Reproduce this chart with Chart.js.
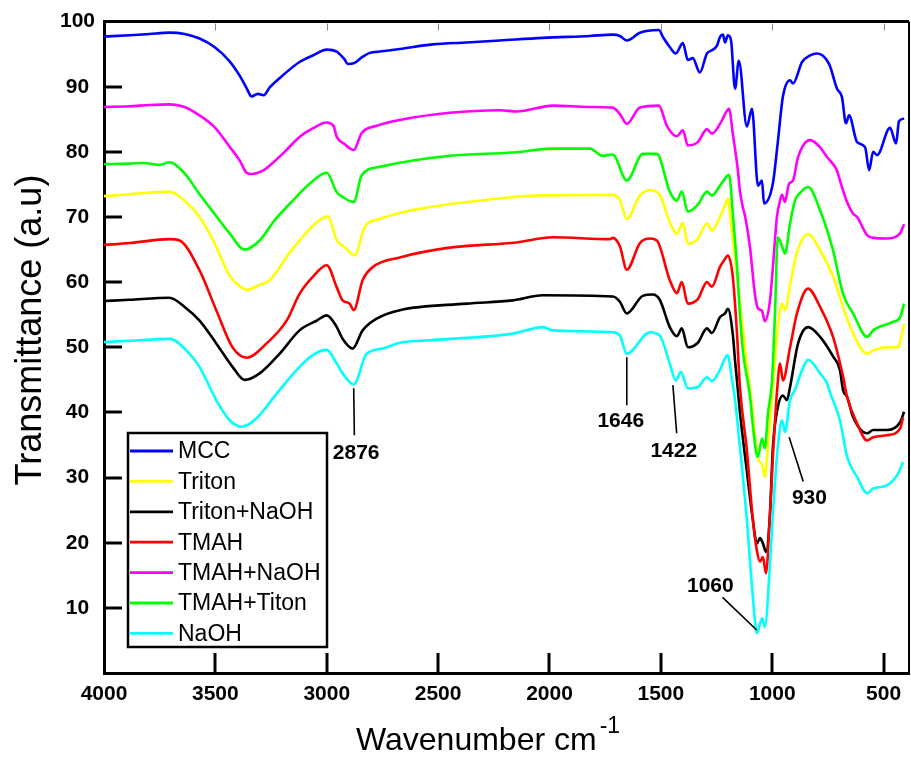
<!DOCTYPE html>
<html>
<head>
<meta charset="utf-8">
<script src="https://cdn.jsdelivr.net/npm/chart.js@4.4.1/dist/chart.umd.min.js"></script>
<style>
html,body{margin:0;padding:0;background:#fff;}
canvas{display:block;}
</style>
</head>
<body>
<canvas id="c" width="911" height="758"></canvas>
<script>
// ---- data ----
const seriesNames = ['MCC','Triton','Triton+NaOH','TMAH','TMAH+NaOH','TMAH+Titon','NaOH'];
const seriesColors = ['#0000ff','#ffff00','#000000','#ff0000','#ff00ff','#00ff00','#00ffff'];
const wnTicks = [4000,3500,3000,2500,2000,1500,1000,500];
const tTicks = [10,20,30,40,50,60,70,80,90,100];

// [wavenumber cm-1, transmittance]
const mcc = [[4000,97.7],[3885,97.9],[3796,98.1],[3706,98.3],[3638,98.1],[3571,97.4],[3504,96.1],[3436,93.9],[3391,91.7],[3360,89.8],[3337,88.5],[3310,88.9],[3283,88.7],[3256,89.9],[3212,91.3],[3189,92.0],[3122,93.8],[3063,94.8],[3000,95.7],[2955,95.4],[2942,95.0],[2920,94.2],[2906,93.5],[2879,93.6],[2843,94.5],[2807,95.2],[2762,95.4],[2672,95.8],[2524,96.5],[2372,96.8],[2223,97.1],[2030,97.5],[1819,97.8],[1716,98.0],[1684,97.8],[1653,97.1],[1594,98.3],[1509,98.7],[1490,97.6],[1460,96.1],[1433,95.1],[1401,96.7],[1379,94.1],[1357,94.4],[1325,92.2],[1293,95.1],[1271,95.6],[1248,96.3],[1235,97.6],[1221,98.0],[1212,96.8],[1199,97.9],[1185,97.1],[1167,89.7],[1150,94.0],[1114,83.9],[1091,86.6],[1064,74.8],[1046,75.6],[1037,72.1],[997,75.2],[975,81.5],[952,88.5],[920,91.0],[907,90.5],[866,93.8],[830,94.8],[799,95.1],[745,93.5],[709,89.7],[687,88.4],[669,84.4],[655,85.6],[619,81.5],[583,80.7],[565,77.2],[547,80.0],[529,79.5],[471,83.7],[444,81.3],[431,84.7],[408,85.1]];
const triton = [[4000,73.2],[3885,73.5],[3706,73.9],[3638,72.5],[3571,70.0],[3504,66.0],[3436,61.0],[3391,59.4],[3360,58.8],[3301,59.6],[3256,60.3],[3167,64.5],[3122,66.4],[3054,68.9],[2995,70.1],[2955,66.4],[2920,65.4],[2875,64.1],[2830,68.4],[2762,69.7],[2448,72.0],[2372,72.3],[2057,73.3],[1716,73.4],[1684,72.6],[1653,69.7],[1594,73.3],[1549,74.1],[1505,73.4],[1460,69.2],[1428,67.4],[1401,69.1],[1379,65.9],[1334,66.7],[1293,69.0],[1271,67.9],[1235,70.0],[1212,71.8],[1199,72.8],[1185,69.0],[1158,61.0],[1123,50.0],[1091,41.0],[1064,33.0],[1046,32.0],[1033,30.1],[1019,35.0],[1001,42.0],[988,48.0],[975,53.0],[956,56.7],[943,55.7],[920,59.5],[898,63.3],[875,65.9],[839,67.4],[785,64.9],[727,60.9],[682,56.2],[637,52.1],[574,49.0],[547,49.5],[485,50.0],[435,50.0],[426,50.8],[408,53.6]];
const tritonNaOH = [[4000,57.1],[3885,57.3],[3706,57.6],[3638,56.2],[3571,54.1],[3496,50.6],[3423,47.0],[3369,45.0],[3301,46.0],[3212,49.0],[3122,52.6],[3045,54.1],[3000,54.9],[2955,53.1],[2929,51.3],[2884,49.8],[2839,52.6],[2776,54.4],[2672,55.7],[2372,56.7],[2165,57.2],[2030,58.0],[1716,57.8],[1684,57.0],[1653,55.2],[1581,57.9],[1536,58.1],[1505,57.3],[1460,53.1],[1428,51.7],[1406,52.9],[1379,50.0],[1334,50.7],[1293,52.9],[1271,52.2],[1235,54.6],[1212,55.2],[1199,55.9],[1177,52.0],[1167,48.0],[1145,40.0],[1114,31.0],[1087,23.5],[1069,19.9],[1055,20.7],[1042,19.9],[1028,18.6],[1010,24.5],[997,34.7],[975,40.8],[952,42.6],[934,41.9],[920,43.9],[884,50.6],[839,53.1],[785,51.6],[727,48.6],[696,46.5],[682,43.4],[664,42.4],[637,39.3],[574,36.8],[547,37.3],[485,37.3],[426,38.5],[408,40.1]];
const tmah = [[4000,65.7],[3885,66.0],[3706,66.6],[3661,66.4],[3571,61.8],[3496,55.7],[3423,50.0],[3360,48.4],[3270,50.6],[3180,54.1],[3122,58.2],[3063,60.8],[3000,62.6],[2955,59.2],[2929,57.2],[2897,56.7],[2879,55.7],[2839,60.3],[2794,62.3],[2672,63.8],[2448,65.3],[2147,66.1],[1985,66.9],[1729,66.6],[1716,66.8],[1684,65.5],[1653,61.9],[1594,66.0],[1549,66.7],[1518,66.4],[1460,60.3],[1428,58.3],[1406,60.0],[1379,56.7],[1334,57.4],[1293,60.0],[1271,59.3],[1235,62.3],[1217,63.3],[1199,64.1],[1177,60.8],[1158,52.0],[1145,43.9],[1114,34.2],[1087,23.5],[1069,18.8],[1055,17.1],[1042,17.8],[1028,15.3],[1010,24.5],[997,33.2],[979,43.0],[965,47.5],[952,44.9],[920,50.0],[889,55.2],[839,59.0],[785,56.2],[727,51.6],[682,45.5],[664,42.4],[619,38.3],[574,35.7],[547,36.2],[485,36.5],[426,37.5],[413,39.2]];
const tmahNaOH = [[4000,86.9],[3885,87.0],[3796,87.2],[3706,87.3],[3638,86.9],[3571,85.6],[3504,83.8],[3436,80.8],[3391,78.7],[3360,76.8],[3337,76.6],[3283,77.2],[3256,77.9],[3189,80.0],[3122,82.3],[3063,83.6],[3000,84.5],[2970,84.0],[2955,82.3],[2920,81.2],[2879,80.3],[2843,82.9],[2776,84.0],[2672,84.9],[2448,86.0],[2223,86.4],[2147,86.2],[1985,87.1],[1819,86.9],[1716,86.8],[1684,85.8],[1653,84.3],[1594,86.8],[1509,87.1],[1473,84.0],[1428,82.4],[1401,83.3],[1379,81.0],[1334,81.5],[1293,83.5],[1271,82.8],[1226,84.8],[1212,85.8],[1194,86.6],[1177,82.8],[1154,77.1],[1145,74.0],[1132,71.5],[1123,70.3],[1100,65.4],[1078,58.2],[1064,56.0],[1046,55.6],[1033,54.0],[1010,57.2],[997,62.3],[979,70.0],[965,72.5],[956,73.4],[943,72.3],[925,75.1],[907,75.6],[884,79.2],[830,81.8],[785,80.7],[754,79.2],[709,77.1],[696,75.6],[664,72.3],[637,70.5],[619,70.0],[574,67.2],[547,66.8],[485,66.7],[426,67.5],[408,68.9]];
const tmahTriton = [[4000,78.1],[3885,78.2],[3820,78.3],[3751,78.0],[3706,78.4],[3638,76.7],[3571,73.5],[3504,70.5],[3436,67.5],[3369,65.0],[3301,66.4],[3234,69.5],[3167,72.0],[3077,75.1],[3000,76.8],[2955,73.8],[2929,73.1],[2879,72.3],[2843,76.4],[2762,77.7],[2448,79.4],[2165,79.9],[1985,80.5],[1819,80.5],[1761,79.4],[1716,79.6],[1653,75.6],[1581,79.7],[1518,79.7],[1460,73.9],[1428,72.5],[1406,73.9],[1379,70.8],[1334,71.9],[1293,73.9],[1271,73.3],[1235,74.8],[1212,75.9],[1194,76.5],[1177,70.5],[1158,62.3],[1145,55.0],[1132,49.5],[1109,44.5],[1100,42.5],[1087,38.0],[1073,34.0],[1064,33.2],[1046,36.0],[1033,34.5],[1019,39.9],[1001,44.9],[988,55.0],[975,66.9],[956,65.5],[943,64.4],[920,69.0],[898,72.5],[875,73.7],[839,74.6],[785,71.0],[727,64.9],[682,58.2],[637,55.2],[574,51.6],[547,52.6],[458,53.9],[426,54.6],[408,56.7]];
const naoh = [[4000,50.8],[3885,51.0],[3706,51.3],[3616,49.0],[3571,47.0],[3496,41.9],[3436,38.8],[3382,37.8],[3315,39.1],[3225,42.9],[3122,47.0],[3063,48.8],[3000,49.6],[2955,47.5],[2929,46.0],[2879,44.3],[2821,49.0],[2749,49.8],[2672,50.7],[2524,51.1],[2165,52.1],[2030,53.1],[1985,52.6],[1716,52.3],[1684,51.8],[1653,49.0],[1549,52.3],[1505,51.8],[1460,47.5],[1433,44.9],[1410,46.2],[1379,43.7],[1334,43.9],[1293,45.4],[1271,44.8],[1235,46.5],[1212,48.3],[1199,48.8],[1185,46.0],[1167,41.9],[1145,34.7],[1114,23.5],[1087,11.7],[1069,6.1],[1046,8.4],[1033,7.1],[1010,16.8],[997,24.5],[975,34.7],[956,38.8],[943,37.0],[920,41.9],[898,43.5],[866,46.5],[839,48.1],[785,46.0],[754,44.5],[740,43.0],[696,38.8],[664,33.2],[619,30.1],[574,27.6],[547,28.3],[485,28.8],[435,30.6],[413,32.4]];

const seriesData = [mcc, triton, tritonNaOH, tmah, tmahNaOH, tmahTriton, naoh];

// peak labels: text, leader line ends and label centre, in (wavenumber, transmittance)
const peakLabels = [
  {text:'2876', from:[2879,43.7], to:[2876,36.5], at:[2868,33.8]},
  {text:'1646', from:[1653,48.5], to:[1653,41.1], at:[1680,38.6]},
  {text:'1422', from:[1446,44.2], to:[1429,36.8], at:[1442,34.1]},
  {text:'930',  from:[924,36.2],  to:[861,29.4],  at:[833,26.8]},
  {text:'1060', from:[1070,6.6],  to:[1223,11.6], at:[1278,13.4]}
];

const FONT = '"Liberation Sans", Arial, Helvetica, sans-serif';

const framePlugin = {
  id: 'frame',
  afterDraw(chart) {
    const ctx = chart.ctx, xs = chart.scales.x, ys = chart.scales.y, ca = chart.chartArea;
    ctx.save();
    ctx.strokeStyle = '#000';
    ctx.lineCap = 'butt';
    // top and right border
    ctx.lineWidth = 3;
    ctx.beginPath(); ctx.moveTo(ca.left, ca.top); ctx.lineTo(ca.right, ca.top); ctx.stroke();
    ctx.lineWidth = 2;
    ctx.beginPath(); ctx.moveTo(ca.right, ca.top); ctx.lineTo(ca.right, ca.bottom); ctx.stroke();
    // inward major ticks
    ctx.lineWidth = 3;
    wnTicks.forEach(v => {
      if (v === xs.max) return;
      const p = Math.round(xs.getPixelForValue(v));
      ctx.beginPath(); ctx.moveTo(p, ca.bottom); ctx.lineTo(p, ca.bottom - 20); ctx.stroke();
    });
    tTicks.forEach(v => {
      if (v === ys.max) return;
      const p = Math.round(ys.getPixelForValue(v));
      ctx.beginPath(); ctx.moveTo(ca.left, p); ctx.lineTo(ca.left + 18, p); ctx.stroke();
    });
    // small top ticks
    ctx.lineWidth = 1; ctx.strokeStyle = '#888';
    wnTicks.forEach(v => {
      if (v === xs.max) return;
      const p = Math.round(xs.getPixelForValue(v)) + 0.5;
      ctx.beginPath(); ctx.moveTo(p, ca.top + 2); ctx.lineTo(p, ca.top + 9); ctx.stroke();
    });
    // peak labels
    ctx.strokeStyle = '#000'; ctx.fillStyle = '#000'; ctx.lineWidth = 1.6;
    ctx.font = 'bold 21px ' + FONT; ctx.textAlign = 'center'; ctx.textBaseline = 'middle';
    peakLabels.forEach(a => {
      ctx.beginPath();
      ctx.moveTo(xs.getPixelForValue(a.from[0]), ys.getPixelForValue(a.from[1]));
      ctx.lineTo(xs.getPixelForValue(a.to[0]), ys.getPixelForValue(a.to[1]));
      ctx.stroke();
      ctx.fillText(a.text, xs.getPixelForValue(a.at[0]), ys.getPixelForValue(a.at[1]));
    });
    // legend box
    const lx = 128, ly = 433, lw = 199, lh = 214;
    ctx.lineWidth = 2.5; ctx.strokeStyle = '#000';
    ctx.strokeRect(lx, ly, lw, lh);
    ctx.font = '23px ' + FONT; ctx.textAlign = 'left'; ctx.textBaseline = 'middle';
    chart.data.datasets.forEach((ds, i) => {
      const y = ly + 18 + i * 30.4;
      ctx.strokeStyle = ds.borderColor; ctx.lineWidth = 2.8;
      ctx.beginPath(); ctx.moveTo(lx + 2, y); ctx.lineTo(lx + 45, y); ctx.stroke();
      ctx.fillStyle = '#000';
      ctx.fillText(ds.label, lx + 50, y + 1);
    });
    // axis titles
    ctx.fillStyle = '#000';
    ctx.save();
    ctx.translate(41, 330); ctx.rotate(-Math.PI / 2);
    ctx.font = '36px ' + FONT; ctx.textAlign = 'center'; ctx.textBaseline = 'alphabetic';
    ctx.fillText('Transmittance (a.u)', 0, 0);
    ctx.restore();
    ctx.font = '32px ' + FONT; ctx.textAlign = 'left'; ctx.textBaseline = 'alphabetic';
    const main = 'Wavenumber cm';
    ctx.fillText(main, 356, 750);
    const w = ctx.measureText(main).width;
    ctx.font = '23px ' + FONT;
    ctx.fillText('-1', 356 + w + 3, 733);
    ctx.restore();
  }
};

const datasets = seriesData.map((pts, i) => ({
  label: seriesNames[i],
  data: pts.map(p => ({x: p[0], y: p[1]})),
  borderColor: seriesColors[i],
  backgroundColor: seriesColors[i],
  borderWidth: 2.6,
  pointRadius: 0,
  fill: false,
  cubicInterpolationMode: 'monotone',
  order: seriesData.length - 1 - i
}));

new Chart(document.getElementById('c'), {
  type: 'line',
  data: { datasets },
  options: {
    responsive: false,
    animation: false,
    events: [],
    layout: { padding: { top: 21, right: 2, left: 0, bottom: 0 } },
    plugins: { legend: { display: false }, tooltip: { enabled: false } },
    scales: {
      x: {
        type: 'linear', reverse: true, min: 386, max: 4000, position: 'bottom',
        grid: { display: false, drawTicks: false },
        border: { display: true, color: '#000', width: 3 },
        ticks: { color: '#000', font: { family: FONT, size: 21, weight: 'bold' }, padding: 9,
                 maxRotation: 0, autoSkip: false, callback: v => String(v) },
        afterBuildTicks: s => { s.ticks = wnTicks.map(value => ({ value })); },
        afterFit: s => { s.height = 85; }
      },
      y: {
        type: 'linear', min: 0, max: 100, position: 'left',
        grid: { display: false, drawTicks: false },
        border: { display: true, color: '#000', width: 3 },
        ticks: { color: '#000', font: { family: FONT, size: 21, weight: 'bold' }, padding: 9,
                 crossAlign: 'center', callback: v => String(v) },
        afterBuildTicks: s => { s.ticks = tTicks.map(value => ({ value })); },
        afterFit: s => { s.width = 104; }
      }
    }
  },
  plugins: [framePlugin]
});
</script>
</body>
</html>
